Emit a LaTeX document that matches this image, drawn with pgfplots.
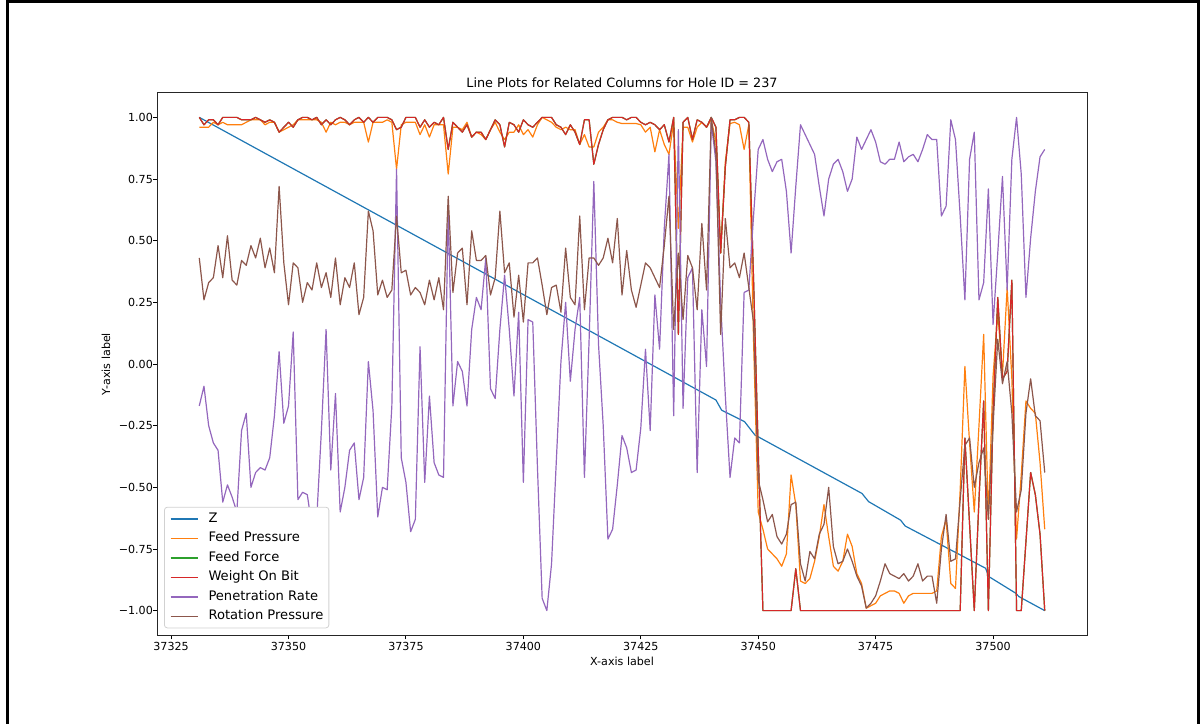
\documentclass[border=0pt]{standalone}
\usepackage{fontspec}
\setmainfont{DejaVu Sans}
\usepackage{pgfplots}
\usepackage{pgfplotstable}
\pgfplotsset{compat=1.18}

\definecolor{cZ}{HTML}{1F77B4}
\definecolor{cFP}{HTML}{FF7F0E}
\definecolor{cFF}{HTML}{2CA02C}
\definecolor{cWOB}{HTML}{D62728}
\definecolor{cPR}{HTML}{9467BD}
\definecolor{cRP}{HTML}{8C564B}

% normalised drilling signals, hole 237 (feed force equals weight on bit)
\pgfplotstableread{
x     fp     wob    pr     rp
37331 0.96   1.00  -0.17   0.43
37332 0.96   0.97  -0.09   0.26
37333 0.96   0.99  -0.25   0.33
37334 0.98   0.99  -0.32   0.35
37335 0.97   0.97  -0.35   0.48
37336 0.98   1.00  -0.56   0.35
37337 0.97   1.00  -0.49   0.52
37338 0.97   1.00  -0.54   0.34
37339 0.97   1.00  -0.60   0.32
37340 0.97   0.99  -0.27   0.42
37341 0.98   0.99  -0.20   0.40
37342 0.99   0.99  -0.50   0.48
37343 0.99   1.00  -0.44   0.43
37344 0.99   0.99  -0.42   0.51
37345 0.97   0.98  -0.43   0.39
37346 0.98   0.99  -0.38   0.47
37347 0.98   0.98  -0.21   0.37
37348 0.94   0.94   0.05   0.72
37349 0.95   0.96  -0.24   0.41
37350 0.96   0.98  -0.17   0.24
37351 0.97   0.96   0.13   0.41
37352 0.99   0.99  -0.55   0.39
37353 0.99   1.00  -0.52   0.25
37354 0.99   1.00  -0.53   0.33
37355 0.99   0.99  -0.66   0.30
37356 0.99   1.00  -0.63   0.41
37357 0.98   0.97  -0.27   0.31
37358 0.94   0.99   0.14   0.37
37359 0.98   0.97  -0.43   0.27
37360 0.97   0.99  -0.12   0.43
37361 0.98   1.00  -0.60   0.24
37362 0.98   0.99  -0.50   0.35
37363 0.97   0.97  -0.35   0.31
37364 0.98   0.99  -0.32   0.41
37365 0.98   1.00  -0.55   0.20
37366 0.98   0.98  -0.46   0.27
37367 0.90   1.00   0.01   0.62
37368 0.98   0.98  -0.19   0.54
37369 0.98   1.00  -0.62   0.28
37370 0.98   1.00  -0.50   0.34
37371 0.99   1.00  -0.51   0.27
37372 0.98   0.99  -0.17   0.30
37373 0.79   0.95   0.79   0.60
37374 0.97   0.96  -0.38   0.37
37375 0.98   1.00  -0.48   0.38
37376 0.98   1.00  -0.68   0.28
37377 0.98   1.00  -0.63   0.31
37378 0.93   0.96   0.07   0.29
37379 0.97   0.99  -0.48   0.24
37380 0.92   0.96  -0.13   0.34
37381 0.97   0.98  -0.40   0.26
37382 0.97   0.97  -0.45   0.35
37383 0.97   1.00  -0.46   0.22
37384 0.77   0.87   0.63   0.68
37385 0.96   0.98  -0.17   0.29
37386 0.96   0.96   0.01   0.45
37387 0.95   0.94  -0.03   0.47
37388 0.98   0.97  -0.17   0.24
37389 0.92   0.92   0.14   0.54
37390 0.94   0.94   0.27   0.42
37391 0.93   0.94   0.22   0.42
37392 0.91   0.91   0.43   0.44
37393 0.95   0.95  -0.10   0.28
37394 0.98   0.99  -0.14   0.35
37395 0.94   0.97   0.14   0.62
37396 0.91   0.88   0.36   0.37
37397 0.94   0.98   0.14   0.41
37398 0.94   0.97  -0.13   0.19
37399 0.97   0.94   0.21   0.36
37400 0.93   0.99  -0.48   0.17
37401 0.95   0.97   0.18   0.41
37402 0.92   0.96   0.17   0.41
37403 0.97   0.98  -0.42   0.43
37404 1.00   1.00  -0.95   0.32
37405 0.99   1.00  -1.00   0.20
37406 0.98   1.00  -0.81   0.31
37407 0.96   0.97  -0.40   0.32
37408 0.95   0.96   0.01   0.21
37409 0.96   0.93   0.25   0.47
37410 0.95   0.97  -0.07   0.27
37411 0.95   0.94   0.14   0.24
37412 0.89   0.89   0.27   0.60
37413 0.93   0.99  -0.46   0.22
37414 0.88   0.99   0.10   0.43
37415 0.88   0.81   0.74   0.43
37416 0.94   0.89   0.08   0.40
37417 0.96   0.95  -0.25   0.43
37418 0.99   0.99  -0.71   0.51
37419 0.99   1.00  -0.67   0.41
37420 0.98   1.00  -0.49   0.59
37421 0.975  1.00  -0.29   0.28
37422 0.975  0.99  -0.34   0.46
37423 0.975  1.00  -0.44   0.30
37424 0.975  1.00  -0.43   0.23
37425 0.97   0.98  -0.26   0.32
37426 0.94   0.97   0.06   0.41
37427 0.96   0.98  -0.27   0.39
37428 0.86   0.97   0.28   0.35
37429 0.95   0.95   0.06   0.31
37430 0.89   0.97   0.55   0.48
37431 0.85   0.90   0.85   0.68
37432 0.98   1.00  -0.21   0.14
37433 0.55   0.12   0.95   0.45
37434 0.96   0.98  -0.18   0.18
37435 0.96   1.00   0.35   0.44
37436 0.90   0.91   0.39   0.39
37437 0.96   0.99  -0.44   0.22
37438 0.98   0.98   0.22   0.57
37439 0.96   0.96  -0.01   0.30
37440 0.99   1.00   0.98   1.00
37441 0.90   0.96   0.82   0.85
37442 0.45   0.45   0.25   0.12
37443 0.82   0.80  -0.13   0.59
37444 0.975  0.99  -0.46   0.39
37445 0.98   0.99  -0.30   0.41
37446 0.97   1.00  -0.32   0.35
37447 0.87   1.00   0.29   0.45
37448 0.97   0.98   0.30   0.31
37449 0.10   0.35   0.60   0.17
37450 -0.60 -0.35   0.87  -0.47
37451 -0.67 -1.00   0.91  -0.55
37452 -0.75 -1.00   0.83  -0.64
37453 -0.77 -1.00   0.78  -0.61
37454 -0.79 -1.00   0.82  -0.70
37455 -0.82 -1.00   0.83  -0.73
37456 -0.77 -1.00   0.70  -0.69
37457 -0.45 -1.00   0.45  -0.57
37458 -0.57 -0.83   0.72  -0.56
37459 -0.88 -1.00   0.97  -0.81
37460 -0.89 -1.00   0.93  -0.88
37461 -0.87 -1.00   0.89  -0.76
37462 -0.80 -1.00   0.85  -0.79
37463 -0.70 -1.00   0.72  -0.69
37464 -0.57 -1.00   0.60  -0.65
37465 -0.70 -1.00   0.75  -0.50
37466 -0.82 -1.00   0.81  -0.74
37467 -0.84 -1.00   0.83  -0.81
37468 -0.80 -1.00   0.78  -0.80
37469 -0.69 -1.00   0.70  -0.75
37470 -0.74 -1.00   0.75  -0.80
37471 -0.85 -1.00   0.92  -0.86
37472 -0.89 -1.00   0.87  -0.90
37473 -0.99 -1.00   0.91  -0.99
37474 -0.98 -1.00   0.95  -0.97
37475 -0.97 -1.00   0.90  -0.94
37476 -0.94 -1.00   0.82  -0.88
37477 -0.93 -1.00   0.81  -0.81
37478 -0.92 -1.00   0.83  -0.85
37479 -0.92 -1.00   0.83  -0.86
37480 -0.93 -1.00   0.90  -0.87
37481 -0.97 -1.00   0.82  -0.85
37482 -0.94 -1.00   0.84  -0.88
37483 -0.93 -1.00   0.85  -0.86
37484 -0.93 -1.00   0.82  -0.81
37485 -0.93 -1.00   0.87  -0.88
37486 -0.93 -1.00   0.93  -0.86
37487 -0.93 -1.00   0.91  -0.86
37488 -0.92 -1.00   0.91  -0.97
37489 -0.70 -1.00   0.60  -0.75
37490 -0.63 -1.00   0.64  -0.61
37491 -0.89 -1.00   0.99  -0.80
37492 -0.91 -1.00   0.91  -0.79
37493 -0.51 -1.00   0.60  -0.55
37494 -0.01 -0.30   0.26  -0.33
37495 -0.32 -0.65   0.83  -0.30
37496 -0.60 -1.00   0.94  -0.50
37497 -0.25 -0.55   0.26  -0.40
37498 0.12  -0.15   0.33  -0.34
37499 -0.63 -1.00   0.71  -0.63
37500 -0.05 -0.20   0.16  -0.25
37501 0.21   0.27   0.45   0.10
37502 -0.045 -0.06  0.76  -0.08
37503 0.31  -0.03   0.30   0.01
37504 -0.06  0.34   0.83  -0.20
37505 -0.71 -1.00   1.00  -0.60
37506 -0.45 -1.00   0.77  -0.51
37507 -0.15 -0.72   0.27  -0.20
37508 -0.18 -0.44   0.51  -0.06
37509 -0.20 -0.53   0.70  -0.21
37510 -0.40 -0.69   0.84  -0.23
37511 -0.67 -1.00   0.87  -0.44
}\drill

% depth Z, piecewise linear with small steps
\pgfplotstableread{
x        z
37331.0  1.000
37386.6  0.421
37441.0 -0.146
37442.2 -0.187
37447.1 -0.234
37449.3 -0.288
37472.1 -0.525
37473.5 -0.558
37480.3 -0.633
37481.3 -0.657
37498.4 -0.828
37499.1 -0.862
37504.8 -0.929
37505.5 -0.943
37511.0 -1.000
}\depth

\begin{document}
\begin{tikzpicture}
\path[use as bounding box] (0pt,0pt) rectangle (1201pt,723pt);
\draw[line width=3pt, line join=miter] (7pt,-2pt) -- (7pt,721.5pt) -- (1198.5pt,721.5pt) -- (1198.5pt,-2pt);
\begin{axis}[
  at={(157pt,87.7pt)}, anchor=south west,
  scale only axis, width=930pt, height=542.6pt,
  xmin=37322, xmax=37520, ymin=-1.1, ymax=1.1,
  scaled x ticks=false, scaled y ticks=false,
  axis line style={black!85, line width=0.9pt},
  tick align=outside, major tick length=4pt,
  tick style={black, line width=0.9pt},
  xtick pos=bottom, ytick pos=left,
  xtick={37325,37350,37375,37400,37425,37450,37475,37500},
  xticklabels={37325,37350,37375,37400,37425,37450,37475,37500},
  ytick={-1,-0.75,-0.5,-0.25,0,0.25,0.5,0.75,1},
  yticklabels={−1.00,−0.75,−0.50,−0.25,0.00,0.25,0.50,0.75,1.00},
  ticklabel style={font=\fontsize{11.1}{13}\selectfont},
  xticklabel style={inner sep=0pt, anchor=north, yshift=-2.5pt},
  yticklabel style={inner sep=0pt, anchor=east},
  title={Line Plots for Related Columns for Hole ID = 237},
  every axis title/.style={at={([yshift=5.5pt]axis description cs:0.5,1)}, anchor=base, inner sep=0pt, font=\fontsize{12.8}{15}\selectfont},
  xlabel={X-axis label},
  xlabel style={at={([yshift=-29.7pt]axis description cs:0.5,0)}, anchor=base, inner sep=0pt, font=\fontsize{11.1}{13}\selectfont},
  ylabel={Y-axis label},
  ylabel style={at={([xshift=-47pt]axis description cs:0,0.5)}, anchor=base, inner sep=0pt, font=\fontsize{11.1}{13}\selectfont},
  legend style={at={(0,0)}, anchor=south west, xshift=7pt, yshift=7pt,
    draw=black!18, fill=white, text opacity=1,
    rounded corners=3pt, line width=0.8pt,
    inner xsep=5.5pt, inner ysep=5.5pt,
    font=\fontsize{13.1}{15}\selectfont,
    nodes={inner sep=0pt, text height=9.6pt, text depth=2.6pt},
    row sep=7.3pt, column sep=10pt},
  legend cell align=left,
  legend image code/.code={\draw[#1] (0pt,0pt) -- (27pt,0pt);},
  every axis plot/.append style={line width=1.2pt, line join=round},
]
\addplot[cZ, forget plot] table[x=x, y=z] {\depth};
\addplot[cFP, forget plot] table[x=x, y=fp] {\drill};
\addplot[cFF, forget plot] table[x=x, y=wob] {\drill};
\addplot[cWOB, forget plot] table[x=x, y=wob] {\drill};
\addplot[cPR, forget plot] table[x=x, y=pr] {\drill};
\addplot[cRP, forget plot] table[x=x, y=rp] {\drill};
\addlegendimage{draw=cZ, line width=1.6pt}
\addlegendentry{Z}
\addlegendimage{draw=cFP, line width=1.6pt}
\addlegendentry{Feed Pressure}
\addlegendimage{draw=cFF, line width=1.6pt}
\addlegendentry{Feed Force}
\addlegendimage{draw=cWOB, line width=1.6pt}
\addlegendentry{Weight On Bit}
\addlegendimage{draw=cPR, line width=1.6pt}
\addlegendentry{Penetration Rate}
\addlegendimage{draw=cRP, line width=1.6pt}
\addlegendentry{Rotation Pressure}
\end{axis}
\end{tikzpicture}
\end{document}
